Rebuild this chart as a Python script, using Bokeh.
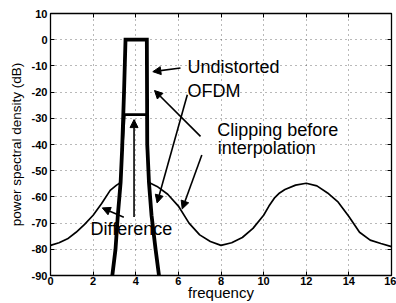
from bokeh.plotting import figure
from bokeh.models import (Range1d, LinearAxis, FixedTicker, Label, Arrow,
                          NormalHead, ColumnDataSource)
from bokeh.embed import file_html
from bokeh.resources import INLINE

# ---------------- data ----------------
x_ticks = [0, 2, 4, 6, 8, 10, 12, 14, 16]
y_ticks = [10, 0, -10, -20, -30, -40, -50, -60, -70, -80, -90]
x_tick_labels = ["0", "2", "4", "6", "8", "10", "12", "14", "16"]
y_tick_labels = ["10", "0", "-10", "-20", "-30", "-40", "-50", "-60", "-70", "-80", "-90"]

# undistorted OFDM spectrum (thick)
ofdm_x = [2.9, 3.05, 3.16, 3.29, 3.36, 3.45, 3.52, 4.52, 4.53, 4.54, 4.62, 4.74, 4.93, 5.09]
ofdm_y = [-90, -80, -67, -54.5, -42, -20, 0, 0, -20, -40, -54.5, -67, -80, -90]

# clipping before interpolation (thin); in-band part lies under the OFDM curve
clip_x = [0, 0.4, 0.8, 1.2, 1.6, 2.0, 2.4, 2.8, 3.1, 3.3, 3.36, 3.45, 3.52, 4.52, 4.53, 4.54, 4.62,
          5.0, 5.5, 6.0, 6.5, 7.0, 7.5, 8.0, 8.5, 9.0, 9.5, 10.0, 10.25, 10.5, 10.75, 11.0, 11.5,
          12.0, 12.5, 13.0, 13.5, 14.0, 14.5, 15.0, 15.5, 16.0]
clip_y = [-78.5, -77.5, -76, -73.5, -70.5, -67, -62.5, -57.5, -55.5, -54.5, -42, -20, 0, 0, -20, -40, -54.5,
          -56, -59, -63.5, -70, -74.5, -77, -78.5, -77.5, -75.5, -72, -67, -63.5, -60.5, -58.5, -57.2, -55.5,
          -54.8, -55.8, -58.5, -62, -67.5, -73.5, -76.5, -77.8, -79]

# difference (in-band level)
diff_x = [3.36, 3.47, 4.53, 4.54]
diff_y = [-42, -28.6, -28.6, -42]

# annotation texts and arrows
label_texts = ["Undistorted", "OFDM", "Clipping before", "interpolation", "Difference"]
label_x = [6.43, 6.43, 7.82, 7.85, 1.88]
label_y = [-10.4, -19.4, -34.3, -41.5, -72.2]

arrow_x0 = [6.1, 6.42, 7.04, 7.1, 3.92, 3.44]
arrow_y0 = [-10.8, -21.0, -36.9, -44.0, -67.7, -67.8]
arrow_x1 = [4.8, 5.0, 4.88, 6.18, 3.92, 2.43]
arrow_y1 = [-12.2, -62.3, -19.4, -64.6, -30.5, -64.2]

FONT = "Liberation Sans"

# ---------------- figure ----------------
p = figure(width=396, height=303, x_range=Range1d(0, 16), y_range=Range1d(-90, 10),
           output_backend="svg", toolbar_location=None,
           min_border_left=50, min_border_right=5, min_border_top=13, min_border_bottom=26)
p.background_fill_color = "white"
p.border_fill_color = "white"
p.outline_line_color = "black"
p.outline_line_width = 1.3

for ax in (p.xaxis, p.yaxis):
    ax.axis_line_color = "black"
    ax.major_tick_in = 4
    ax.major_tick_out = 0
    ax.minor_tick_line_color = None
    ax.major_label_text_font = FONT
    ax.major_label_text_font_style = "bold"
    ax.major_label_text_font_size = "11px"
    ax.major_label_text_color = "black"
    ax.axis_label_text_font = FONT
    ax.axis_label_text_font_style = "normal"
    ax.axis_label_text_color = "black"

p.xaxis.ticker = FixedTicker(ticks=x_ticks)
p.yaxis.ticker = FixedTicker(ticks=y_ticks)
p.xaxis.major_label_overrides = {t: s for t, s in zip(x_ticks, x_tick_labels)}
p.yaxis.major_label_overrides = {t: s for t, s in zip(y_ticks, y_tick_labels)}
p.xaxis.major_label_standoff = 1
p.yaxis.major_label_standoff = 3
p.xaxis.axis_label = "frequency"
p.xaxis.axis_label_text_font_size = "15px"
p.xaxis.axis_label_standoff = -4
p.yaxis.axis_label = "power spectral density (dB)"
p.yaxis.axis_label_text_font_size = "13.5px"
p.yaxis.axis_label_standoff = 5

# top / right axes with inward ticks only (labels not drawn)
for loc, tk in (("above", x_ticks), ("right", y_ticks)):
    a = LinearAxis(ticker=FixedTicker(ticks=tk), major_tick_in=4, major_tick_out=0,
                   minor_tick_line_color=None, major_label_text_font_size="1px",
                   major_label_text_color=None, axis_line_color="black")
    p.add_layout(a, loc)

p.xgrid.ticker = FixedTicker(ticks=x_ticks)
p.ygrid.ticker = FixedTicker(ticks=y_ticks)
p.grid.grid_line_color = "#444444"
p.grid.grid_line_dash = "1 4"
p.grid.grid_line_width = 1
p.grid.grid_line_alpha = 0.75

# curves
p.line(clip_x, clip_y, line_color="black", line_width=1.7)
p.line(diff_x, diff_y, line_color="black", line_width=2.6)
p.line(ofdm_x, ofdm_y, line_color="black", line_width=3.8, line_join="miter")

# arrows
arr_src = ColumnDataSource(dict(x0=arrow_x0, y0=arrow_y0, x1=arrow_x1, y1=arrow_y1))
p.add_layout(Arrow(source=arr_src, x_start="x0", y_start="y0", x_end="x1", y_end="y1",
                   line_color="black", line_width=1.6,
                   end=NormalHead(size=8, fill_color="black", line_color="black", line_width=1)))

# labels
for t, lx, ly in zip(label_texts, label_x, label_y):
    p.add_layout(Label(x=lx, y=ly, text=t, text_font=FONT, text_font_size="18px",
                       text_color="black", text_baseline="alphabetic", text_align="left"))

open("out.html", "w").write(file_html(p, INLINE))
